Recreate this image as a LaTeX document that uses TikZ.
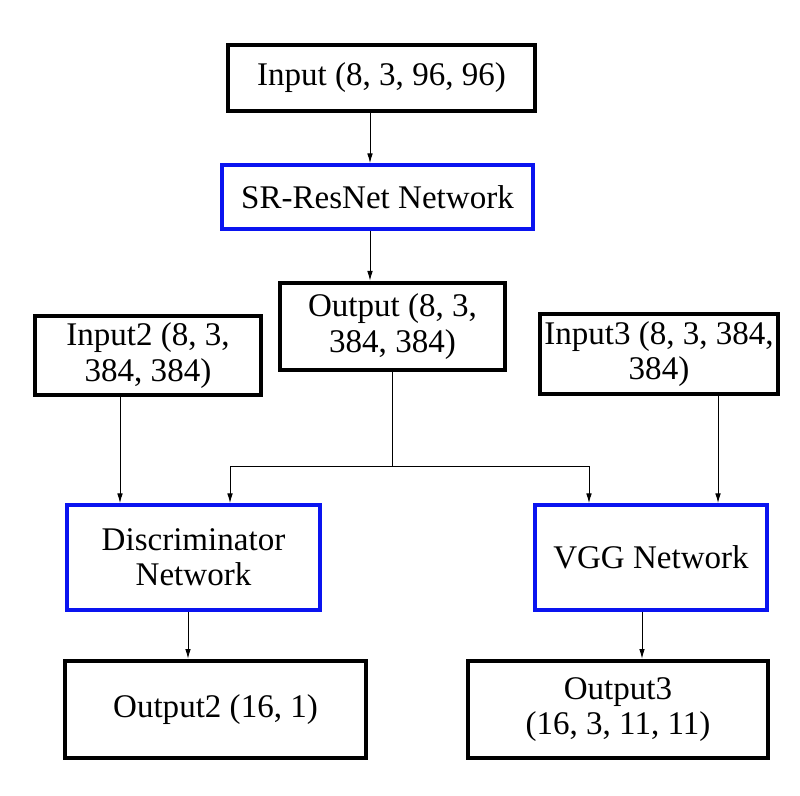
\documentclass[tikz,border=0pt]{standalone}
\usepackage{fontspec}
\setmainfont{Liberation Serif}
\usepackage{xcolor}
\definecolor{netblue}{HTML}{0A14F0}
\usepackage{tikz}
\usetikzlibrary{arrows.meta,positioning,calc}

\begin{document}
\begin{tikzpicture}[
    x=0.025cm, y=-0.025cm,
    >=Latex,
    every node/.style={font=\fontsize{23.5}{25}\selectfont, align=center, inner sep=2pt},
    io_box/.style={draw=black, line width=3.4pt, fill=white},
    net_box/.style={draw=netblue, line width=2.8pt, fill=white},
    flow/.style={-{Latex[length=2.4mm, width=1.4mm]}, line width=0.6pt, black},
    wire/.style={line width=0.6pt, black}
]
  \useasboundingbox (0,0) rectangle (800,795);

  % Generator Path
  \node[io_box, minimum width=7.675cm, minimum height=1.65cm] (input) at (381.5,78) {Input (8, 3, 96, 96)};
  \node[net_box, minimum width=7.775cm, minimum height=1.6cm] (srnet) at (377.5,197) {SR-ResNet Network};
  \node[io_box, minimum width=5.625cm, minimum height=2.175cm] (output) at (392.5,326.5) {Output (8, 3,\\384, 384)};

  % Side Inputs
  \node[io_box, minimum width=5.65cm, minimum height=1.975cm] (input2) at (148,355.5) {Input2 (8, 3,\\384, 384)};
  \node[io_box, minimum width=5.95cm, minimum height=2.0cm] (input3) at (659,354) {Input3 (8, 3, 384,\\384)};

  % Loss Networks
  \node[net_box, minimum width=6.325cm, minimum height=2.625cm] (disc) at (193.5,557.5) {Discriminator\\Network};
  \node[net_box, minimum width=5.8cm, minimum height=2.625cm] (vgg) at (651,557.5) {VGG Network};

  % Final Outputs
  \node[io_box, minimum width=7.525cm, minimum height=2.425cm] (output2) at (215.5,709.5) {Output2 (16, 1)};
  \node[io_box, minimum width=7.5cm, minimum height=2.425cm] (output3) at (618,709.5) {Output3\\(16, 3, 11, 11)};

  % Connecting Flows
  \draw[flow] ([xshift=-0.2875cm]input.south) -- ([xshift=-0.2875cm]input.south |- srnet.north);
  \draw[flow] ([xshift=-0.1875cm]srnet.south) -- ([xshift=-0.1875cm]srnet.south |- output.north);

  \coordinate (split) at ([yshift=-2.35cm]output.south);
  \draw[wire] (output.south) -- (split);
  \draw[flow] (split) -| ([xshift=0.9125cm]disc.north);
  \draw[flow] (split) -| ([xshift=-1.55cm]vgg.north);

  \draw[flow] ([xshift=-0.7cm]input2.south) -- ([xshift=-0.7cm]input2.south |- disc.north);
  \draw[flow] ([xshift=1.475cm]input3.south) -- ([xshift=1.475cm]input3.south |- vgg.north);

  \draw[flow] ([xshift=-0.1375cm]disc.south) -- ([xshift=-0.1375cm]disc.south |- output2.north);
  \draw[flow] ([xshift=-0.225cm]vgg.south) -- ([xshift=-0.225cm]vgg.south |- output3.north);

\end{tikzpicture}
\end{document}
